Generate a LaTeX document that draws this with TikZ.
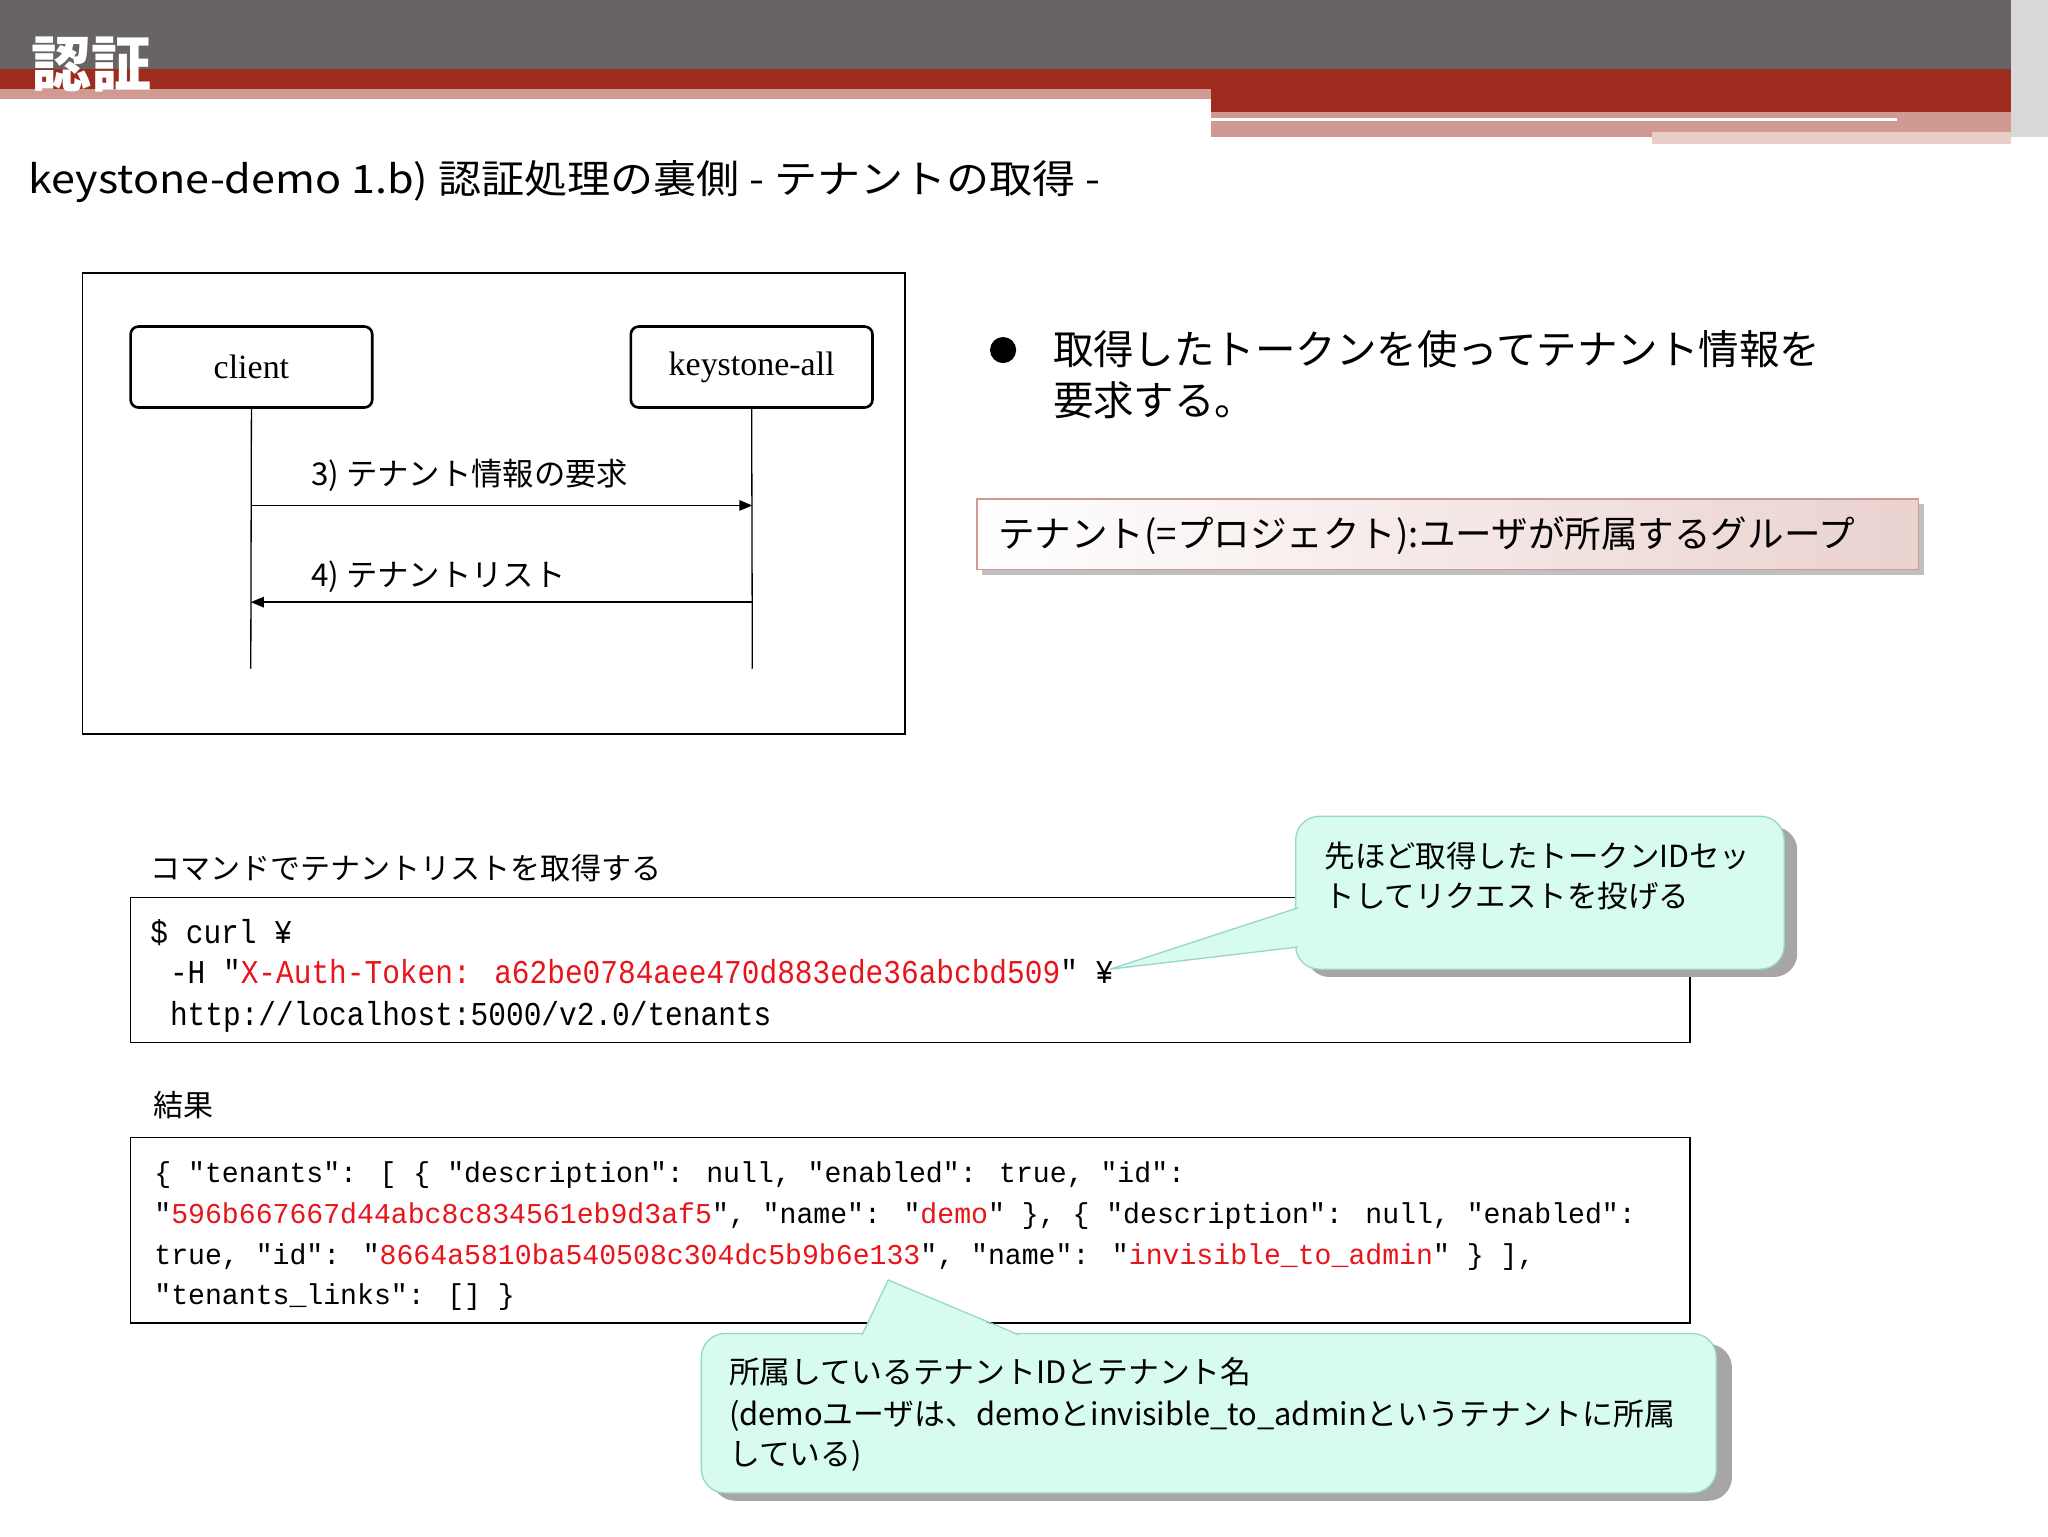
\documentclass[tikz,border=0pt]{standalone}
\usepackage{fontspec}
\setmainfont{Noto Sans CJK JP}
\newfontfamily\jpw[FakeStretch=1.1]{Noto Sans CJK JP}
\newfontfamily\serif{Liberation Serif}
\newfontfamily\code[FakeStretch=0.885]{Liberation Mono}
\newfontfamily\rcode[FakeStretch=0.98]{Liberation Mono}
\usetikzlibrary{arrows.meta,shadows}
\definecolor{hdgray}{HTML}{686466}
\definecolor{hdred}{HTML}{9E2B1F}
\definecolor{hdpink}{HTML}{D09A93}
\definecolor{mint}{HTML}{D8FBEF}
\definecolor{cred}{HTML}{E8141B}
\begin{document}
\begin{tikzpicture}[x=1pt,y=-1pt,
  fs/.style={font=\fontsize{#1}{#1}\selectfont},
  lbl/.style={anchor=base west,inner sep=0pt},
  actor/.style={draw,line width=2pt,rounded corners=6pt,minimum width=185pt,minimum height=62pt,font=\fontsize{26}{26}\serif},
  msg/.style={-{Triangle[length=10pt,width=8pt]},line width=1.2pt},
  life/.style={line width=1pt},
  callout/.style={fill=mint,draw=mint!70!teal,line width=1pt},
  shadowc/.style={fill=black!35},
]
\path[use as bounding box] (0,0) rectangle (1568,1176);
\fill[white] (0,0) rectangle (1568,1176);
% header
\fill[hdgray] (0,0) rectangle (1568,53);
\fill[hdred] (0,53) rectangle (1568,68);
\fill[hdpink] (0,68) rectangle (927,76);
\fill[hdred] (927,68) rectangle (1540,86);
\fill[hdpink] (927,86) rectangle (1540,105);
\fill[white] (927,90) rectangle (1452,93);
\fill[hdpink!50] (1265,101) rectangle (1540,110);
\fill[black!15] (1540,0) rectangle (1568,105);
\node[lbl,text=white,font=\bfseries] (t) at (24,66) {\fontsize{46}{46}\selectfont 認証};
\node[lbl,font=\fontsize{30}{30}\jpw] (st) at (22,148) {keystone-demo 1.b) 認証処理の裏側 - テナントの取得 -};
% sequence diagram
\draw[line width=1.2pt] (63,209) rectangle (693,562);
\node[actor] (c) at (192.5,281) {client};
\node[actor] (k) at (575.5,281) {keystone-all};
\coordinate (cb) at (192,512); \coordinate (kb) at (576,512);
\draw[life] (c.south) -- (cb);
\draw[life] (k.south) -- (kb);
\coordinate (a1) at (192,387); \coordinate (a2) at (576,387);
\coordinate (b1) at (576,461); \coordinate (b2) at (192,461);
\draw[msg] (a1) -- (a2);
\draw[msg] (b1) -- (b2);
\node[lbl,fs=24] (m3) at (238,372) {3) テナント情報の要求};
\node[lbl,fs=24] (m4) at (238,449) {4) テナントリスト};
% bullet
\fill (768,268) circle (10pt);
\node[lbl,fs=31] (bl1) at (806,279) {取得したトークンを使ってテナント情報を};
\node[lbl,fs=31] (bl2) at (806,318) {要求する。};
\fill[black!25] (752,386) rectangle (1473,440);
\shade[left color=white,right color=hdpink!45,draw=hdpink,line width=1pt] (748,382) rectangle (1469,436);
\node[lbl,fs=28] (def) at (764,419) {テナント(=プロジェクト):ユーザが所属するグループ};
% command
\node[lbl,fs=23] (cl) at (115,673) {コマンドでテナントリストを取得する};
\draw[line width=1.2pt] (100,687) rectangle (1294,798);
\begin{scope}[every node/.style={lbl,font=\fontsize{25.5}{25.5}\code}]
\node (c1) at (115,722) {\$ curl ¥};
\node (c2) at (130,753) {-H "\textcolor{cred}{X-Auth-Token: a62be0784aee470d883ede36abcbd509}" ¥};
\node (c3) at (130,785) {http://localhost:5000/v2.0/tenants};
\end{scope}
% callout 1
\fill[shadowc] (1000,633) [rounded corners=18pt] rectangle (1376,748);
\draw[callout,rounded corners=18pt] (992,625) rectangle (1366,742);
\fill[mint] (994,695) -- (850,742) -- (994,725) -- cycle;
\draw[mint!70!teal,line width=1pt] (994,695) -- (850,742) -- (994,725);
\node[lbl,fs=23.3] (q1) at (1014,664) {先ほど取得したトークンIDセッ};
\node[lbl,fs=23.3] (q2) at (1014,695) {トしてリクエストを投げる};
% result
\node[lbl,fs=23] (rl) at (117,855) {結果};
\draw[line width=1.2pt] (100,871) rectangle (1294,1013);
\begin{scope}[every node/.style={lbl,font=\fontsize{22}{22}\rcode}]
\node (r1) at (118,905) {\{ "tenants": [ \{ "description": null, "enabled": true, "id":};
\node (r2) at (118,937) {"\textcolor{cred}{596b667667d44abc8c834561eb9d3af5}", "name": "\textcolor{cred}{demo}" \}, \{ "description": null, "enabled":};
\node (r3) at (118,968) {true, "id": "\textcolor{cred}{8664a5810ba540508c304dc5b9b6e133}", "name": "\textcolor{cred}{invisible\_to\_admin}" \} ],};
\node (r4) at (118,999) {"tenants\_links": [] \}};
\end{scope}
% callout 2
\fill[shadowc] (545,1029) [rounded corners=18pt] rectangle (1326,1149);
\draw[callout,rounded corners=18pt] (537,1021) rectangle (1314,1143);
\fill[mint] (660,1023) -- (680,980) -- (780,1023) -- cycle;
\draw[mint!70!teal,line width=1pt] (660,1022) -- (680,980) -- (780,1022);
\node[lbl,fs=23.6] (p1) at (558,1059) {所属しているテナントIDとテナント名};
\node[lbl,fs=23.6] (p2) at (558,1091) {(demoユーザは、demoとinvisible\_to\_adminというテナントに所属};
\node[lbl,fs=23.6] (p3) at (558,1122) {している)};
\end{tikzpicture}
\end{document}
